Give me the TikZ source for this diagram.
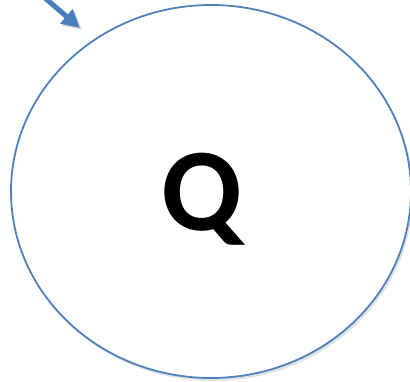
\documentclass[tikz,border=0pt]{standalone}
\usepackage{fontspec}
\setmainfont{Carlito}
\usetikzlibrary{shapes.geometric,shadows,arrows.meta}
\definecolor{ringblue}{HTML}{4F81BD}
\definecolor{arrowblue}{HTML}{4A7EBB}

\begin{document}
\begin{tikzpicture}[x=1pt,y=-1pt,
  ringstyle/.style={ellipse,draw=ringblue,line width=1.8pt,fill=white,inner sep=0pt,
    drop shadow={shadow xshift=2pt,shadow yshift=-3pt,opacity=0.22,fill=black!50}},
  pointer/.style={-{Triangle[length=18pt,width=18pt]},line width=5pt,arrowblue}]
\useasboundingbox (0,0) rectangle (410,381);
\clip (0,0) rectangle (410,381);
% ellipse with the letter
\node[ringstyle,minimum width=400pt,minimum height=373pt] (ring) at (211,191.5) {};
\node[anchor=base,font=\bfseries\fontsize{118}{118}\selectfont,inner sep=0pt] (letter) at (202,230) {Q};
% arrow from the corner
\coordinate (tail) at (24,-20);
\coordinate (tip) at (80,28);
\draw[pointer,black,opacity=0.15,transform canvas={shift={(2pt,-2pt)}}] (tail) -- (tip);
\draw[pointer] (tail) -- (tip);
\end{tikzpicture}
\end{document}
